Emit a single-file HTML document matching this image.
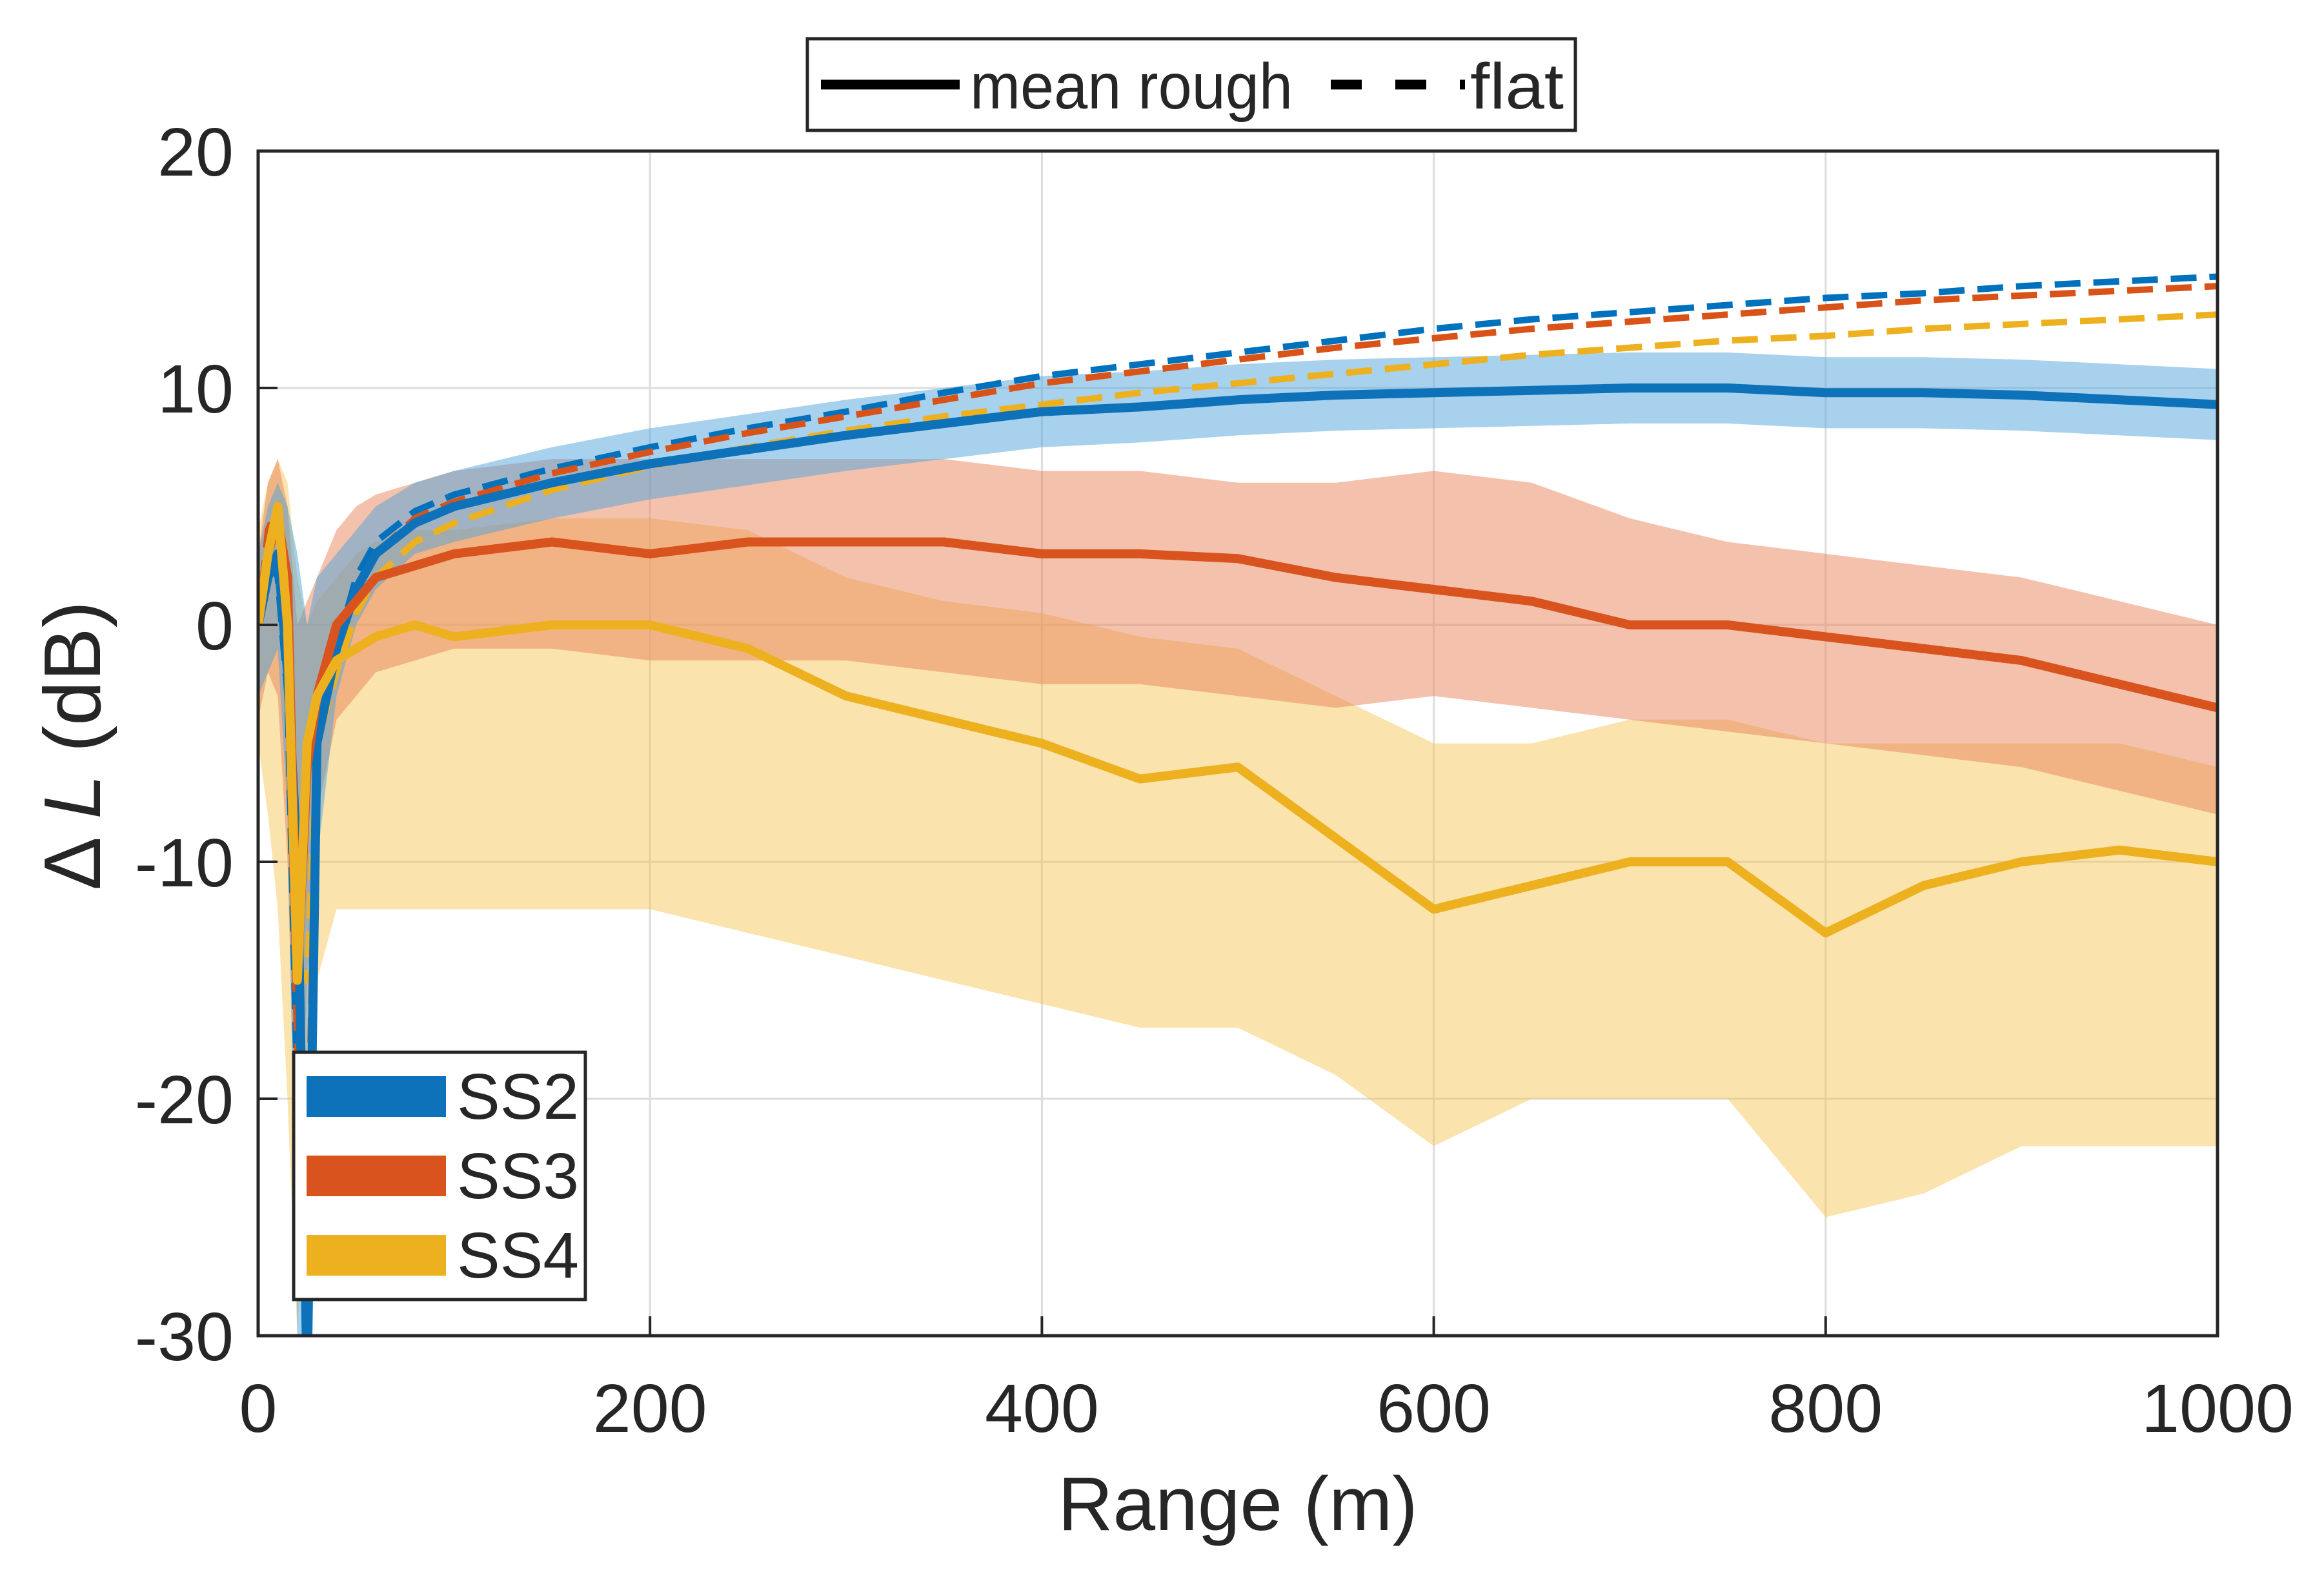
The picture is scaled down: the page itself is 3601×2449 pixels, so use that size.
<!DOCTYPE html>
<html><head><meta charset="utf-8"><style>html,body{margin:0;padding:0;background:#fff}svg{display:block}text{font-family:"Liberation Sans",sans-serif;fill:#262626}</style></head>
<body>
<svg id="chart" width="3601" height="2449" viewBox="0 0 3601 2449" xmlns="http://www.w3.org/2000/svg">
<defs><clipPath id="pc"><rect x="400" y="234" width="3036" height="1835"/></clipPath></defs>
<rect width="3601" height="2449" fill="#fff"/>
<g id="grid"></g>
<g id="marks" clip-path="url(#pc)"></g>
<rect x="400" y="234" width="3036" height="1835" fill="none" stroke="#262626" stroke-width="5"/>
<g id="ticks"></g>
<text x="1918" y="2370" font-size="118" text-anchor="middle">Range (m)</text>
<text transform="translate(155,1155) rotate(-90)" font-size="124" text-anchor="middle">Δ <tspan font-style="italic">L</tspan> (dB)</text>
<g>
<rect x="1251" y="60" width="1190" height="142" fill="#fff" stroke="#262626" stroke-width="5"/>
<line x1="1272" y1="131" x2="1487" y2="131" stroke="#000" stroke-width="15"/>
<text x="1503" y="168" font-size="100" textLength="500" lengthAdjust="spacingAndGlyphs" fill="#000">mean rough</text>
<line x1="2062" y1="131" x2="2275" y2="131" stroke="#000" stroke-width="15" stroke-dasharray="48,52,48,52,8,100"/>
<text x="2278" y="168" font-size="100" textLength="145" lengthAdjust="spacingAndGlyphs" fill="#000">flat</text>
</g>
<g>
<rect x="455" y="1630" width="452" height="383" fill="#fff" stroke="#262626" stroke-width="5"/>
<rect x="475" y="1667" width="216" height="63" fill="#0E72BA"/>
<text x="708" y="1733" font-size="100" fill="#000">SS2</text>
<rect x="475" y="1790" width="216" height="63" fill="#D9531E"/>
<text x="708" y="1856" font-size="100" fill="#000">SS3</text>
<rect x="475" y="1913" width="216" height="63" fill="#EDB120"/>
<text x="708" y="1979" font-size="100" fill="#000">SS4</text>
</g>
</svg>
<script>
const ranges=[0,5,10,15,20,25,30,40,50,60,80,100,150,200,250,300,350,400,450,500,550,600,650,700,750,800,850,900,950,1000];
const ss2Mean=[0,2,3,-2,-10,-32,-5,-1,1.5,3,4.3,5,6,6.8,7.4,8,8.5,9,9.2,9.5,9.7,9.8,9.9,10,10,9.8,9.8,9.7,9.5,9.3];
const ss3Mean=[0,3,4.5,2,-15,-6,-3,0,1,2,2.5,3,3.5,3,3.5,3.5,3.5,3,3,2.8,2,1.5,1,0,0,-0.5,-1,-1.5,-2.5,-3.5];
const ss4Mean=[0,3,5,0,-15,-5,-3,-1.5,-1,-0.5,0,-0.5,0,0,-1,-3,-4,-5,-6.5,-6,-9,-12,-11,-10,-10,-13,-11,-10,-9.5,-10];
const ss2Flat=[0,3,2,-3,-20,-30,-5,-1,2,3.5,4.8,5.5,6.6,7.5,8.3,9,9.8,10.5,11,11.5,12,12.5,12.9,13.2,13.5,13.8,14,14.3,14.5,14.7];
const ss3Flat=[0,4,5,-2,-18,-25,-4,-1,1.5,3,4.5,5.2,6.4,7.3,8.1,8.8,9.5,10.2,10.7,11.2,11.7,12.1,12.5,12.8,13.1,13.4,13.7,13.9,14.1,14.3];
const ss4Flat=[0,3,4,-2,-15,-15,-5,-2,0.5,2,3.5,4.3,5.7,6.7,7.5,8.2,8.8,9.3,9.8,10.2,10.6,11,11.4,11.7,12,12.2,12.5,12.7,12.9,13.1];
const ss2Upper=[3,5,6,5,3,0,2,3,4,5,6,6.5,7.5,8.3,8.9,9.5,10,10.5,10.7,11,11.2,11.3,11.4,11.5,11.5,11.3,11.3,11.2,11,10.8];
const ss2Lower=[-3,-2,-1,-8,-30,-32,-10,-3,0,1.5,3,3.5,4.5,5.3,5.9,6.5,7,7.5,7.7,8,8.2,8.3,8.4,8.5,8.5,8.3,8.3,8.2,8,7.8];
const ss3Upper=[3,6,7,5,0,1,2,4,5,5.5,6,6.5,7,7,7,7,7,6.5,6.5,6,6,6.5,6,4.5,3.5,3,2.5,2,1,0];
const ss3Lower=[-4,-2,-3,-10,-25,-15,-8,-4,-3,-2,-1.5,-1,-1,-1.5,-1.5,-1.5,-2,-2.5,-2.5,-3,-3.5,-3,-3.5,-4,-4.5,-5,-5.5,-6,-7,-8];
const ss4Upper=[4,6,7,6,2,0,1,2,3,3.5,4,4,4.5,4.5,4,2,1,0.5,-0.5,-1,-3,-5,-5,-4,-4,-5,-5,-5,-5,-6];
const ss4Lower=[-5,-8,-12,-20,-30,-20,-15,-12,-12,-12,-12,-12,-12,-12,-13,-14,-15,-16,-17,-17,-19,-22,-20,-20,-20,-25,-24,-22,-22,-22];
const xTicks=[0,200,400,600,800,1000];
const yTicks=[-30,-20,-10,0,10,20];

const NS='http://www.w3.org/2000/svg';
const X0=400,X1=3436,Y0=2069,Y1=234;
function xs(v){return X0+(v-0)/(1000-0)*(X1-X0);}
function ys(v){return Y0-(v-(-30))/(20-(-30))*(Y0-Y1);}
function mk(tag,attrs,parent){const e=document.createElementNS(NS,tag);for(const k in attrs)e.setAttribute(k,attrs[k]);parent.appendChild(e);return e;}
const grid=document.getElementById('grid'),marks=document.getElementById('marks'),ticks=document.getElementById('ticks');
xTicks.forEach(t=>{
  const g=mk('line',{x1:xs(t),x2:xs(t),y1:Y1,y2:Y0,stroke:'#dcdcdc','stroke-width':3},grid);
  
  
  const tk=mk('line',{x1:xs(t),x2:xs(t),y1:Y0,y2:Y0-30,stroke:'#262626','stroke-width':4},ticks);
  
  
  const tx=mk('text',{x:xs(t),y:2218,'font-size':106,'text-anchor':'middle'},ticks);
  tx.textContent=t;
  
  
});
yTicks.forEach(t=>{
  const g=mk('line',{x1:X0,x2:X1,y1:ys(t),y2:ys(t),stroke:'#dcdcdc','stroke-width':3},grid);
  
  
  const tk=mk('line',{x1:X0,x2:X0+30,y1:ys(t),y2:ys(t),stroke:'#262626','stroke-width':4},ticks);
  
  
  const tx=mk('text',{x:362,y:ys(t)+38,'font-size':106,'text-anchor':'end'},ticks);
  tx.textContent=t;
  
  
});
function linePath(vals){return vals.map((v,i)=>(i?'L':'M')+xs(ranges[i]).toFixed(1)+','+ys(v).toFixed(1)).join('');}
function bandPath(up,lo){let d=linePath(up);for(let i=lo.length-1;i>=0;i--)d+='L'+xs(ranges[i]).toFixed(1)+','+ys(lo[i]).toFixed(1);return d+'Z';}
const bands=[[ss4Upper,ss4Lower,'#F3C24A',0.45,'ss4-band'],[ss3Upper,ss3Lower,'#E8845A',0.5,'ss3-band'],[ss2Upper,ss2Lower,'#4FA3DC',0.5,'ss2-band']];
bands.forEach(b=>{
  const p=mk('path',{d:bandPath(b[0],b[1]),fill:b[2],'fill-opacity':b[3]},marks);
  
  
});
const flats=[[ss2Flat,'#0072BD','ss2-flat-line'],[ss3Flat,'#D95319','ss3-flat-line'],[ss4Flat,'#EDB120','ss4-flat-line']];
flats.forEach(f=>{
  const p=mk('path',{d:linePath(f[0]),fill:'none',stroke:f[1],'stroke-width':10,'stroke-dasharray':'40,20'},marks);
  
  
});
const means=[[ss2Mean,'#0E72BA','ss2-mean-line'],[ss3Mean,'#D9531E','ss3-mean-line'],[ss4Mean,'#EDB120','ss4-mean-line']];
means.forEach(m=>{
  const p=mk('path',{d:linePath(m[0]),fill:'none',stroke:m[1],'stroke-width':14,'stroke-linejoin':'round'},marks);
  
  
});
</script>
</body></html>
